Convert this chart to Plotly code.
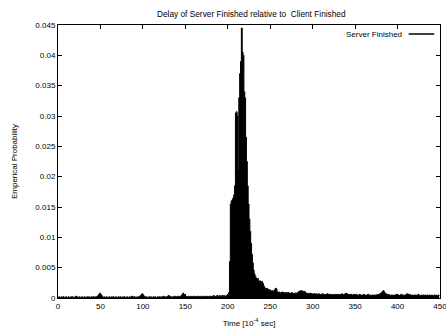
import plotly.graph_objects as go

# Histogram bins of 1 unit (10^-4 sec), starting at 0
bin_starts = list(range(0, 450))

probability = [
    0.0001, 0.0002, 0.0001, 0.0001, 0.0002, 0.0001, 0.0002, 0.0001, 0.0001, 0.0002,
    0.0001, 0.0001, 0.0002, 0.0001, 0.0001, 0.0002, 0.0001, 0.0002, 0.0001, 0.0001,
    0.0002, 0.0003, 0.0002, 0.0001, 0.0001, 0.0002, 0.0001, 0.0001, 0.0002, 0.0001,
    0.0001, 0.0002, 0.0001, 0.0001, 0.0002, 0.0001, 0.0002, 0.0001, 0.0001, 0.0002,
    0.0001, 0.0002, 0.0001, 0.0002, 0.0001, 0.0002, 0.0003, 0.0004, 0.0006, 0.0008,
    0.0006, 0.0004, 0.0002, 0.0001, 0.0002, 0.0001, 0.0001, 0.0002, 0.0001, 0.0001,
    0.0002, 0.0001, 0.0001, 0.0002, 0.0001, 0.0002, 0.0001, 0.0001, 0.0002, 0.0001,
    0.0001, 0.0002, 0.0001, 0.0002, 0.0001, 0.0001, 0.0002, 0.0001, 0.0002, 0.0001,
    0.0001, 0.0002, 0.0001, 0.0001, 0.0002, 0.0001, 0.0002, 0.0003, 0.0002, 0.0001,
    0.0002, 0.0001, 0.0001, 0.0002, 0.0001, 0.0002, 0.0003, 0.0004, 0.0006, 0.0007,
    0.0005, 0.0003, 0.0002, 0.0001, 0.0002, 0.0001, 0.0001, 0.0002, 0.0001, 0.0002,
    0.0001, 0.0001, 0.0002, 0.0001, 0.0002, 0.0001, 0.0001, 0.0002, 0.0001, 0.0002,
    0.0001, 0.0002, 0.0001, 0.0002, 0.0003, 0.0002, 0.0001, 0.0002, 0.0002, 0.0003,
    0.0004, 0.0003, 0.0002, 0.0002, 0.0001, 0.0002, 0.0002, 0.0003, 0.0002, 0.0002,
    0.0002, 0.0003, 0.0002, 0.0002, 0.0003, 0.0004, 0.0006, 0.0008, 0.0006, 0.0004,
    0.0003, 0.0002, 0.0002, 0.0003, 0.0002, 0.0002, 0.0003, 0.0002, 0.0002, 0.0003,
    0.0002, 0.0003, 0.0002, 0.0002, 0.0003, 0.0002, 0.0002, 0.0003, 0.0002, 0.0002,
    0.0003, 0.0002, 0.0002, 0.0003, 0.0002, 0.0003, 0.0002, 0.0002, 0.0003, 0.0002,
    0.0003, 0.0002, 0.0003, 0.0004, 0.0003, 0.0002, 0.0003, 0.0004, 0.0003, 0.0003,
    0.0004, 0.0003, 0.0003, 0.0004, 0.0003, 0.0004, 0.0003, 0.0003, 0.0004, 0.0003,
    0.0004, 0.0009, 0.0060, 0.0155, 0.0160, 0.0162, 0.0165, 0.0170, 0.0185, 0.0305,
    0.0307, 0.0300, 0.0210, 0.0330, 0.0370, 0.0390, 0.0445, 0.0405, 0.0400, 0.0340,
    0.0330, 0.0265, 0.0225, 0.0185, 0.0155, 0.0130, 0.0110, 0.0090, 0.0072, 0.0058,
    0.0046, 0.0040, 0.0036, 0.0033, 0.0031, 0.0032, 0.0029, 0.0027, 0.0028, 0.0026,
    0.0027, 0.0024, 0.0020, 0.0017, 0.0016, 0.0015, 0.0016, 0.0013, 0.0014, 0.0012,
    0.0013, 0.0011, 0.0012, 0.0011, 0.0012, 0.0014, 0.0016, 0.0015, 0.0010, 0.0009,
    0.0010, 0.0009, 0.0008, 0.0009, 0.0010, 0.0009, 0.0008, 0.0009, 0.0008, 0.0009,
    0.0008, 0.0009, 0.0008, 0.0007, 0.0008, 0.0009, 0.0008, 0.0007, 0.0008, 0.0008,
    0.0007, 0.0008, 0.0009, 0.0010, 0.0011, 0.0012, 0.0011, 0.0012, 0.0011, 0.0010,
    0.0011, 0.0009, 0.0008, 0.0007, 0.0008, 0.0007, 0.0007, 0.0008, 0.0007, 0.0006,
    0.0007, 0.0006, 0.0007, 0.0006, 0.0007, 0.0006, 0.0006, 0.0007, 0.0006, 0.0005,
    0.0006, 0.0007, 0.0006, 0.0005, 0.0006, 0.0005, 0.0006, 0.0007, 0.0006, 0.0005,
    0.0006, 0.0005, 0.0006, 0.0005, 0.0005, 0.0006, 0.0005, 0.0006, 0.0005, 0.0006,
    0.0005, 0.0006, 0.0005, 0.0006, 0.0007, 0.0006, 0.0005, 0.0006, 0.0007, 0.0008,
    0.0007, 0.0006, 0.0005, 0.0006, 0.0005, 0.0006, 0.0005, 0.0005, 0.0006, 0.0005,
    0.0005, 0.0006, 0.0005, 0.0004, 0.0005, 0.0006, 0.0005, 0.0004, 0.0005, 0.0005,
    0.0006, 0.0005, 0.0004, 0.0005, 0.0005, 0.0006, 0.0005, 0.0004, 0.0005, 0.0004,
    0.0005, 0.0004, 0.0005, 0.0005, 0.0004, 0.0005, 0.0006, 0.0005, 0.0006, 0.0007,
    0.0008, 0.0009, 0.0011, 0.0012, 0.0010, 0.0008, 0.0007, 0.0006, 0.0005, 0.0006,
    0.0005, 0.0004, 0.0005, 0.0005, 0.0004, 0.0005, 0.0004, 0.0005, 0.0006, 0.0005,
    0.0004, 0.0005, 0.0004, 0.0005, 0.0006, 0.0005, 0.0004, 0.0005, 0.0004, 0.0005,
    0.0006, 0.0007, 0.0006, 0.0005, 0.0006, 0.0005, 0.0004, 0.0005, 0.0004, 0.0005,
    0.0004, 0.0005, 0.0004, 0.0005, 0.0006, 0.0005, 0.0004, 0.0004, 0.0005, 0.0004,
    0.0005, 0.0004, 0.0005, 0.0004, 0.0004, 0.0005, 0.0004, 0.0005, 0.0004, 0.0004,
    0.0005, 0.0004, 0.0004, 0.0005, 0.0004, 0.0005, 0.0004, 0.0004, 0.0005, 0.0004,
]

series_name = "Server Finished"
chart_title = "Delay of Server Finished relative to  Client Finished"
x_title = "Time [10<sup>-4</sup> sec]"
y_title = "Emperical Probability"
x_ticks = [0, 50, 100, 150, 200, 250, 300, 350, 400, 450]
y_ticks = [0, 0.005, 0.01, 0.015, 0.02, 0.025, 0.03, 0.035, 0.04, 0.045]
y_tick_labels = ["0", "0.005", "0.01", "0.015", "0.02", "0.025", "0.03", "0.035", "0.04", "0.045"]

FONT = "Liberation Sans, Arial, sans-serif"

fig = go.Figure()
fig.add_trace(go.Scatter(
    x=bin_starts, y=probability, mode="lines", line_shape="hv",
    line=dict(color="black", width=1), fill="tozeroy", fillcolor="black",
    name=series_name, showlegend=False, hoverinfo="skip",
))

axis_common = dict(
    showline=True, linecolor="black", linewidth=1, mirror="ticks",
    ticks="inside", ticklen=4, tickcolor="black", tickwidth=1,
    showgrid=False, zeroline=False, ticklabeloverflow="allow",
    tickfont=dict(family=FONT, size=8, color="black"),
)

fig.update_layout(
    width=446, height=331,
    margin=dict(l=58, r=6, t=25, b=33, autoexpand=False),
    paper_bgcolor="white", plot_bgcolor="white",
    title=dict(text=chart_title, x=0.506, xref="paper", y=1 - 14 / 331, yref="container",
               xanchor="center", yanchor="middle",
               font=dict(family=FONT, size=8.3, color="black")),
    xaxis=dict(range=[0, 450], tickvals=x_ticks,
               title=dict(text=x_title, font=dict(family=FONT, size=8, color="black"), standoff=10),
               **axis_common),
    yaxis=dict(range=[0, 0.045], tickvals=y_ticks, ticktext=y_tick_labels,
               title=dict(text=y_title, font=dict(family=FONT, size=8, color="black"), standoff=16),
               **axis_common),
    showlegend=False,
)

# gnuplot-style key: text followed by a line sample
fig.add_annotation(text=series_name, xref="paper", yref="paper", x=0.905, y=0.967,
                   xanchor="right", yanchor="middle", showarrow=False,
                   font=dict(family=FONT, size=8, color="black"))
fig.add_shape(type="line", xref="paper", yref="paper", x0=0.918, x1=0.985, y0=0.967, y1=0.967,
              line=dict(color="black", width=1.5))

fig.write_html("out.html")
